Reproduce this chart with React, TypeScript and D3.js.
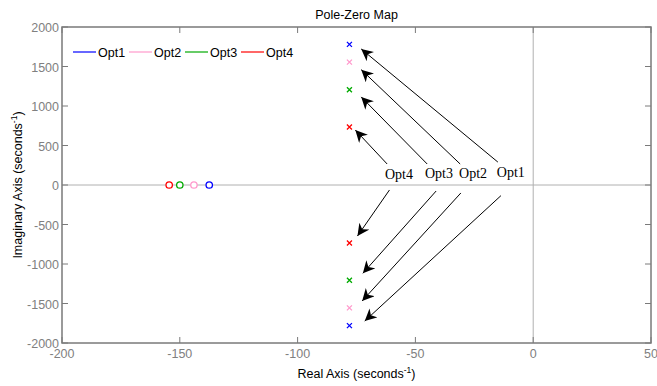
import React, { useEffect, useRef } from 'react'
import * as d3 from 'd3'

const options = ['Opt1', 'Opt2', 'Opt3', 'Opt4']
const colors = ['#0000ff', '#ff99cc', '#00aa00', '#ff0000']
const poleReal = [-78, -78, -78, -78]
const poleImag = [1780, 1555, 1205, 735]
const zeroReal = [-137.5, -144, -150, -154.5]

const xTicks = [-200, -150, -100, -50, 0, 50]
const yTicks = [-2000, -1500, -1000, -500, 0, 500, 1000, 1500, 2000]

// annotation labels and arrows (data units)
const labelX = [-9.5, -25.5, -40, -57]
const labelY = [100, 85, 85, 82]
const upArrowFrom = [[-15, 290], [-31, 266], [-45, 266], [-62, 266]]
const upArrowTo = [[-73, 1722], [-73, 1460], [-73, 1115], [-75.5, 696]]
const downArrowFrom = [[-13.7, -135], [-30.7, -101], [-41.2, -76], [-61, -63]]
const downArrowTo = [[-71.5, -1722], [-72.6, -1468], [-72.3, -1118], [-74.6, -646]]

export default function App() {
  const ref = useRef<SVGSVGElement>(null)

  useEffect(() => {
    const svg = d3.select(ref.current)
    svg.selectAll('*').remove()

    const left = 62, right = 651, top = 27, bottom = 343
    const x = d3.scaleLinear().domain([-200, 50]).range([left, right])
    const y = d3.scaleLinear().domain([-2000, 2000]).range([bottom, top])
    const axisColor = '#7a7a7a'
    const font = 'Arial, "Liberation Sans", sans-serif'

    const defs = svg.append('defs')
    defs.append('marker')
      .attr('id', 'arr').attr('viewBox', '0 0 10 10')
      .attr('refX', 10).attr('refY', 5)
      .attr('markerWidth', 12).attr('markerHeight', 12)
      .attr('markerUnits', 'userSpaceOnUse')
      .attr('orient', 'auto')
      .append('path').attr('d', 'M0,0 L10,5 L0,10 L3,5 Z').attr('fill', 'black')

    // zero lines
    svg.append('line').attr('x1', left).attr('x2', right).attr('y1', y(0)).attr('y2', y(0))
      .attr('stroke', '#b0b0b0').attr('stroke-width', 1)
    svg.append('line').attr('x1', x(0)).attr('x2', x(0)).attr('y1', top).attr('y2', bottom)
      .attr('stroke', '#b0b0b0').attr('stroke-width', 1)

    // frame
    svg.append('rect').attr('x', left).attr('y', top)
      .attr('width', right - left).attr('height', bottom - top)
      .attr('fill', 'none').attr('stroke', axisColor).attr('stroke-width', 1.5)

    // ticks (inward)
    xTicks.forEach(t => {
      svg.append('line').attr('x1', x(t)).attr('x2', x(t)).attr('y1', bottom).attr('y2', bottom - 6)
        .attr('stroke', axisColor)
      svg.append('line').attr('x1', x(t)).attr('x2', x(t)).attr('y1', top).attr('y2', top + 6)
        .attr('stroke', axisColor)
      svg.append('text').attr('x', x(t)).attr('y', bottom + 15)
        .attr('text-anchor', 'middle').attr('font-family', font).attr('font-size', 12.5)
        .attr('fill', '#808080').text(t)
    })
    yTicks.forEach(t => {
      svg.append('line').attr('x1', left).attr('x2', left + 6).attr('y1', y(t)).attr('y2', y(t))
        .attr('stroke', axisColor)
      svg.append('line').attr('x1', right).attr('x2', right - 6).attr('y1', y(t)).attr('y2', y(t))
        .attr('stroke', axisColor)
      svg.append('text').attr('x', left - 3).attr('y', y(t) + 5)
        .attr('text-anchor', 'end').attr('font-family', font).attr('font-size', 12.5)
        .attr('fill', '#808080').text(t)
    })

    // title and axis labels
    svg.append('text').attr('x', (left + right) / 2).attr('y', 19)
      .attr('text-anchor', 'middle').attr('font-family', font).attr('font-size', 12.5)
      .text('Pole-Zero Map')
    const xl = svg.append('text').attr('x', (left + right) / 2).attr('y', 378)
      .attr('text-anchor', 'middle').attr('font-family', font).attr('font-size', 12.5)
    xl.append('tspan').text('Real Axis (seconds')
    xl.append('tspan').attr('dy', -5).attr('font-size', 8.5).text('-1')
    xl.append('tspan').attr('dy', 5).text(')')
    const yl = svg.append('text')
      .attr('transform', `translate(22,${(top + bottom) / 2}) rotate(-90)`)
      .attr('text-anchor', 'middle').attr('font-family', font).attr('font-size', 12.5)
    yl.append('tspan').text('Imaginary Axis (seconds')
    yl.append('tspan').attr('dy', -5).attr('font-size', 8.5).text('-1')
    yl.append('tspan').attr('dy', 5).text(')')

    // zeros
    options.forEach((o, i) => {
      svg.append('circle').attr('cx', x(zeroReal[i])).attr('cy', y(0)).attr('r', 3.2)
        .attr('fill', 'white').attr('stroke', colors[i]).attr('stroke-width', 1.3)
    })

    // poles
    options.forEach((o, i) => {
      ;[poleImag[i], -poleImag[i]].forEach(im => {
        const cx = x(poleReal[i]), cy = y(im), s = 2.5
        svg.append('path')
          .attr('d', `M${cx - s},${cy - s}L${cx + s},${cy + s}M${cx - s},${cy + s}L${cx + s},${cy - s}`)
          .attr('stroke', colors[i]).attr('stroke-width', 1.3)
      })
    })

    // arrows and labels
    options.forEach((o, i) => {
      ;[[upArrowFrom[i], upArrowTo[i]], [downArrowFrom[i], downArrowTo[i]]].forEach(([a, b]) => {
        svg.append('line').attr('x1', x(a[0])).attr('y1', y(a[1]))
          .attr('x2', x(b[0])).attr('y2', y(b[1]))
          .attr('stroke', 'black').attr('stroke-width', 1)
          .attr('marker-end', 'url(#arr)')
      })
      svg.append('text').attr('x', x(labelX[i])).attr('y', y(labelY[i]))
        .attr('text-anchor', 'middle').attr('font-family', '"Liberation Serif", "Times New Roman", serif')
        .attr('font-size', 14).text(o)
    })

    // legend
    const lx = [73, 129, 185, 241]
    options.forEach((o, i) => {
      svg.append('line').attr('x1', lx[i]).attr('x2', lx[i] + 23).attr('y1', 52).attr('y2', 52)
        .attr('stroke', colors[i]).attr('stroke-width', 1.2)
      svg.append('text').attr('x', lx[i] + 25).attr('y', 56.5)
        .attr('font-family', font).attr('font-size', 12.5).text(o)
    })
  }, [])

  return (
    <svg ref={ref} width={657} height={386} style={{ position: 'absolute', left: 0, top: 0, background: 'white' }} />
  )
}
